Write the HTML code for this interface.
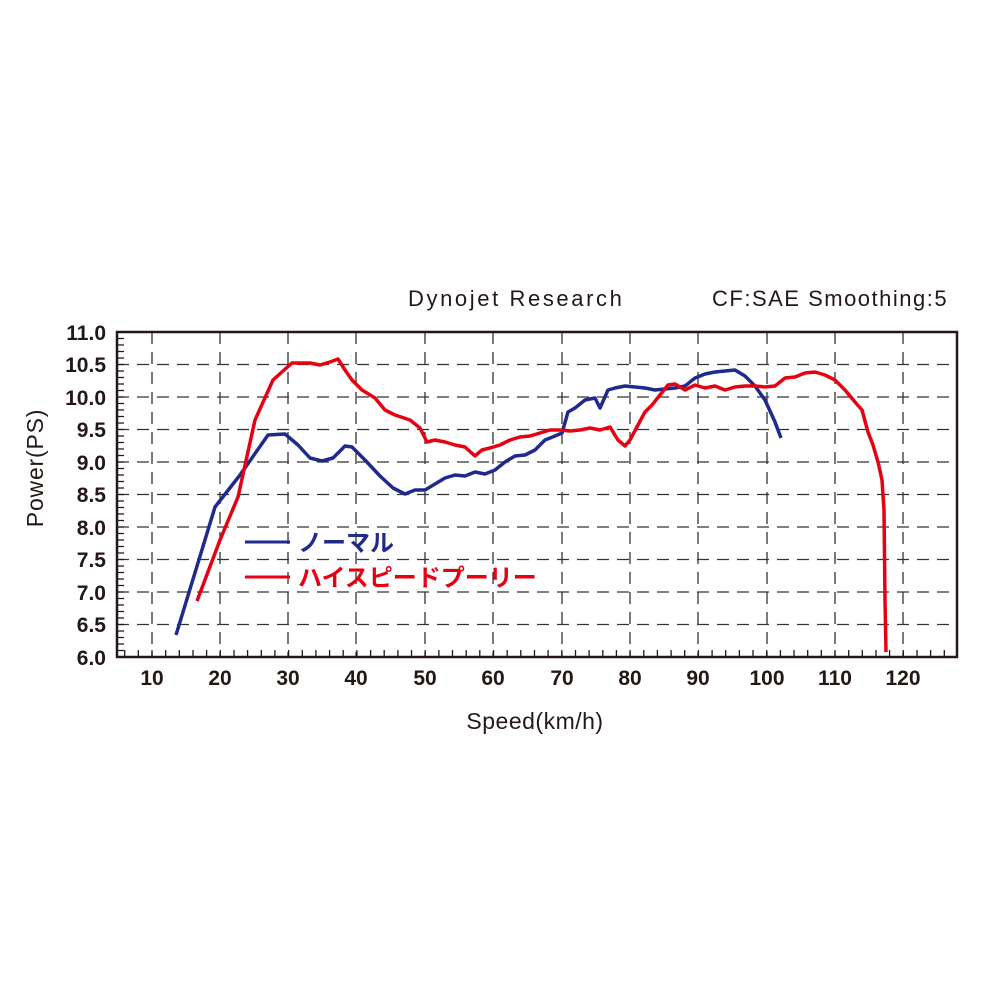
<!DOCTYPE html>
<html><head><meta charset="utf-8"><style>
body{margin:0;background:#fff}
svg{display:block}
text{font-family:"Liberation Sans","Noto Sans CJK JP",sans-serif;fill:#231815}
.yl{font-size:21px;font-weight:bold;text-anchor:end}
.xl{font-size:21px;font-weight:bold;text-anchor:middle}
</style></head><body>
<svg width="1000" height="1000" viewBox="0 0 1000 1000">
<text x="408" y="306" font-size="22" letter-spacing="2.6">Dynojet Research</text>
<text x="712" y="306" font-size="22" letter-spacing="1.5">CF:SAE Smoothing:5</text>
<g stroke="#333" stroke-width="1.3" stroke-dasharray="12,8" fill="none">
<path d="M152 332V657M220 332V657M288 332V657M356 332V657M425 332V657M493 332V657M562 332V657M630 332V657M698 332V657M767 332V657M835 332V657M903 332V657"/>
<path d="M117 364.5H957M117 397H957M117 429.5H957M117 462H957M117 494.5H957M117 527H957M117 559.5H957M117 592H957M117 624.5H957"/>
</g>
<g stroke="#231815" stroke-width="1.3" id="ticks"></g>
<rect x="117" y="332" width="840" height="325" fill="none" stroke="#231815" stroke-width="2.5"/>
<g class="yl">
<text x="106" y="340">11.0</text><text x="106" y="372">10.5</text><text x="106" y="405">10.0</text>
<text x="106" y="437">9.5</text><text x="106" y="470">9.0</text><text x="106" y="502">8.5</text>
<text x="106" y="535">8.0</text><text x="106" y="567">7.5</text><text x="106" y="600">7.0</text>
<text x="106" y="632">6.5</text><text x="106" y="665">6.0</text>
</g>
<g class="xl">
<text x="152" y="685">10</text><text x="220" y="685">20</text><text x="288" y="685">30</text>
<text x="356" y="685">40</text><text x="425" y="685">50</text><text x="493" y="685">60</text>
<text x="562" y="685">70</text><text x="630" y="685">80</text><text x="698" y="685">90</text>
<text x="767" y="685">100</text><text x="835" y="685">110</text><text x="903" y="685">120</text>
</g>
<text x="535" y="729" font-size="23" text-anchor="middle" letter-spacing="0.5">Speed(km/h)</text>
<text transform="translate(43,468) rotate(-90)" font-size="23" text-anchor="middle" letter-spacing="0.8">Power(PS)</text>
<polyline fill="none" stroke="#1f2a8c" stroke-width="3.5" stroke-linejoin="round" points="176,635 215,507 240,475 268,435 285,434 298,445 310,458 322,461 333,458 345,446 352,447 365,460 380,476 393,488 405,494 415,490 425,490 435,484 445,478 455,475 465,476 475,472 485,474 495,470 505,462 515,456 525,455 535,450 545,440 555,436 562,433 568,412 575,408 585,400 595,398 600,408 608,390 615,388 625,386 635,387 645,388 655,390 665,389 675,388 685,386 695,378 705,374 715,372 725,371 735,370 745,376 755,386 765,400 775,422 781,438"/>
<polyline fill="none" stroke="#e60012" stroke-width="3.5" stroke-linejoin="round" points="197,601 220,540 238,497 255,420 273,380 292,363 310,363 320,365 330,362 338,359 345,370 352,380 362,390 375,398 385,410 395,415 410,420 420,428 427,442 435,440 445,442 455,445 465,447 475,456 482,450 490,448 500,445 510,440 520,437 530,436 540,433 550,430 560,430 570,431 580,430 590,428 600,430 610,427 618,440 625,446 630,440 638,425 645,412 652,405 660,395 668,385 675,384 685,390 695,385 705,388 715,386 725,390 735,387 745,386 755,386 765,387 775,386 785,378 795,377 805,373 815,372 825,375 835,380 845,390 855,402 862,410 868,432 873,445 878,462 882,480 884,510 885,600 886,652"/>
<line x1="245" y1="542" x2="290" y2="542" stroke="#1f2a8c" stroke-width="3"/>
<text x="298" y="551" font-size="24" font-weight="bold" style="fill:#1f2a8c">ノーマル</text>
<line x1="245" y1="577" x2="290" y2="577" stroke="#e60012" stroke-width="3"/>
<text x="298" y="586" font-size="24" font-weight="bold" style="fill:#e60012">ハイスピードプーリー</text>
<script>
var g=document.getElementById('ticks'),s='';
for(var v=6;v<=128;v+=2){var x=152+(v-10)*6.83;if(x>118&&x<956)s+='M'+x.toFixed(1)+' 657v-7';}
for(var i=1;i<50;i++){var y=332+i*6.5;s+='M117 '+y.toFixed(1)+'h7';}
var p=document.createElementNS('http://www.w3.org/2000/svg','path');p.setAttribute('d',s);g.appendChild(p);
</script>
</svg>
</body></html>
